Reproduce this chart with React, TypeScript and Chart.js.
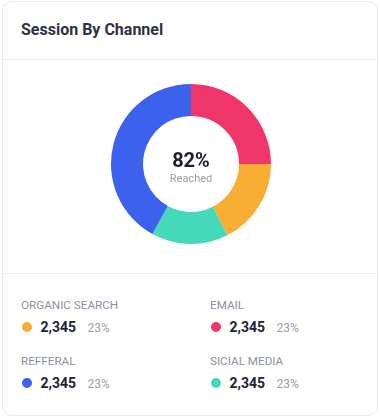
import React, { useEffect, useRef } from "react";
import { Chart, registerables } from "chart.js";

Chart.register(...registerables);

const channels = ["Email", "Organic Search", "Sicial Media", "Refferal"];
const shares = [25, 17.5, 15.5, 42];
const sliceColors = ["#f0356a", "#f8ad33", "#44d9b8", "#3c61ec"];

const centerValue = "82%";
const centerLabel = "Reached";

const legendLabels = ["ORGANIC SEARCH", "EMAIL", "REFFERAL", "SICIAL MEDIA"];
const legendColors = ["#f8ad33", "#f0356a", "#3c61ec", "#44d9b8"];
const legendValues = ["2,345", "2,345", "2,345", "2,345"];
const legendPercents = ["23%", "23%", "23%", "23%"];

const FONT = "Roboto, 'Noto Sans', sans-serif";

const centerTextPlugin = {
  id: "centerText",
  afterDraw(chart: any) {
    const meta = chart.getDatasetMeta(0);
    if (!meta || !meta.data.length) return;
    const arc = meta.data[0];
    const cx = arc.x;
    const cy = arc.y;
    const ctx = chart.ctx;
    ctx.save();
    ctx.textAlign = "center";
    ctx.textBaseline = "alphabetic";
    ctx.fillStyle = "#1c1f2c";
    ctx.font = `bold 20px ${FONT}`;
    ctx.fillText(centerValue, cx, cy + 3);
    ctx.fillStyle = "#9a9da6";
    ctx.font = `11px ${FONT}`;
    ctx.fillText(centerLabel, cx, cy + 18);
    ctx.restore();
  },
};

function Doughnut() {
  const ref = useRef<HTMLCanvasElement | null>(null);
  useEffect(() => {
    if (!ref.current) return;
    const chart = new Chart(ref.current, {
      type: "doughnut",
      data: {
        labels: channels,
        datasets: [
          {
            data: shares,
            backgroundColor: sliceColors,
            borderWidth: 0,
            hoverOffset: 0,
          },
        ],
      },
      options: {
        responsive: false,
        animation: false,
        cutout: "60%",
        layout: { padding: 5 },
        plugins: { legend: { display: false }, tooltip: { enabled: false } },
      },
      plugins: [centerTextPlugin],
    });
    return () => chart.destroy();
  }, []);
  return (
    <canvas
      ref={ref}
      width={170}
      height={170}
      style={{ position: "absolute", left: 103, top: 77, width: 170, height: 170 }}
    />
  );
}

// card origin on page: left 2, top 1
const CX = 2;
const CY = 1;

function txt(
  text: string,
  x: number,
  capTop: number,
  fs: number,
  weight: number,
  color: string
) {
  return (
    <div
      key={text + x + capTop}
      style={{
        position: "absolute",
        left: x - CX - 1,
        top: capTop - CY - 0.131 * fs,
        fontSize: fs,
        lineHeight: `${fs}px`,
        fontWeight: weight,
        color,
        fontFamily: FONT,
        whiteSpace: "nowrap",
      }}
    >
      {text}
    </div>
  );
}

export default function App() {
  const cols = [21, 210];
  const rows = [300.5, 356.5];
  const items = legendLabels.map((label, i) => {
    const x = cols[i % 2];
    const y = rows[Math.floor(i / 2)];
    return (
      <React.Fragment key={label}>
        {txt(label, x, y, 11.7, 400, "#8a91a5")}
        <div
          style={{
            position: "absolute",
            left: x - CX,
            top: y + 20.2 - CY,
            width: 10,
            height: 10,
            borderRadius: "50%",
            background: legendColors[i],
          }}
        />
        {txt(legendValues[i], x + 19.5, y + 20, 14, 700, "#1e2235")}
        {txt(legendPercents[i], x + 66.5, y + 21.8, 12, 400, "#9aa0b0")}
      </React.Fragment>
    );
  });
  return (
    <div style={{ position: "absolute", left: 0, top: 0, width: 380, height: 420, background: "#fff" }}>
      <div
        style={{
          position: "absolute",
          left: CX,
          top: CY,
          width: 376,
          height: 415,
          boxSizing: "border-box",
          border: "1px solid #e8eaef",
          borderRadius: 10,
          background: "#fff",
          overflow: "hidden",
        }}
      >
        {txt("Session By Channel", 21, 23, 16, 700, "#2d3142")}
        <div style={{ position: "absolute", left: 0, right: 0, top: 58 - CY, height: 1, background: "#eceef2" }} />
        <div style={{ position: "absolute", left: 0, right: 0, top: 272 - CY, height: 1, background: "#eceef2" }} />
        <Doughnut />
        {items}
      </div>
    </div>
  );
}
